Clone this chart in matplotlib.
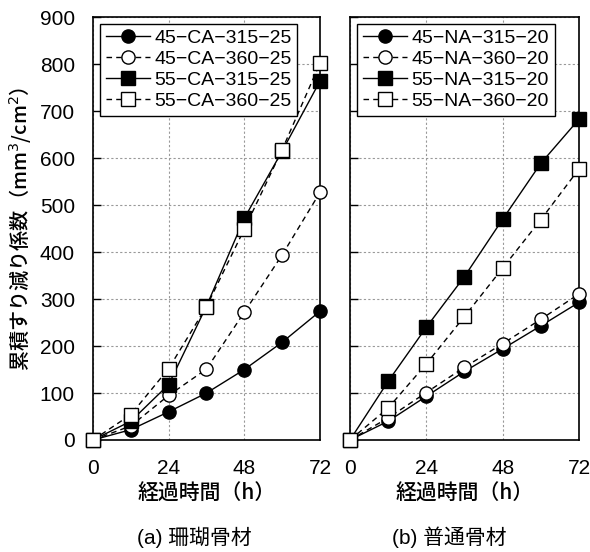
import matplotlib
matplotlib.use("Agg")
import matplotlib.pyplot as plt

plt.rcParams["font.family"] = ["Liberation Sans", "Noto Sans CJK JP", "DejaVu Sans"]

hours = [0, 12, 24, 36, 48, 60, 72]

# (a) coral aggregate
ca_labels = ["45\u2212CA\u2212315\u221225", "45\u2212CA\u2212360\u221225",
             "55\u2212CA\u2212315\u221225", "55\u2212CA\u2212360\u221225"]
ca_45_315 = [0, 22, 60, 100, 150, 208, 274]
ca_45_360 = [0, 30, 95, 151, 272, 394, 527]
ca_55_315 = [0, 40, 118, 285, 472, 615, 764]
ca_55_360 = [0, 54, 152, 284, 449, 618, 802]

# (b) normal aggregate
na_labels = ["45\u2212NA\u2212315\u221220", "45\u2212NA\u2212360\u221220",
             "55\u2212NA\u2212315\u221220", "55\u2212NA\u2212360\u221220"]
na_45_315 = [0, 40, 93, 146, 194, 243, 293]
na_45_360 = [0, 47, 101, 155, 205, 257, 311]
na_55_315 = [0, 125, 240, 348, 470, 589, 683]
na_55_360 = [0, 68, 162, 263, 366, 469, 577]

styles = [
    dict(marker="o", mfc="black", ls="-", ms=9.5),
    dict(marker="o", mfc="white", ls=(0, (4, 3)), ms=9.5),
    dict(marker="s", mfc="black", ls="-", ms=10),
    dict(marker="s", mfc="white", ls=(0, (4, 3)), ms=10),
]

fig = plt.figure(figsize=(5.9, 5.52), dpi=100)
ax1 = fig.add_axes([0.1576, 0.2029, 0.3847, 0.7658])
ax2 = fig.add_axes([0.5932, 0.2029, 0.3881, 0.7658])

panels = [
    (ax1, [ca_45_315, ca_45_360, ca_55_315, ca_55_360], ca_labels),
    (ax2, [na_45_315, na_45_360, na_55_315, na_55_360], na_labels),
]

for ax, series, labels in panels:
    for vals, lab, st in zip(series, labels, styles):
        ax.plot(hours, vals, color="black", lw=1.0, ls=st["ls"],
                marker=st["marker"], markersize=st["ms"], mfc=st["mfc"],
                mec="black", mew=1.0, label=lab, clip_on=False, zorder=3)
    ax.set_xlim(0, 72)
    ax.set_ylim(0, 900)
    ax.set_xticks([0, 24, 48, 72])
    ax.set_yticks(range(0, 1000, 100))
    ax.grid(True, color="#999999", ls=(0, (2, 2)), lw=0.8)
    ax.tick_params(axis="y", direction="in", length=6, width=1, labelsize=15, pad=13)
    ax.tick_params(axis="x", length=0, labelsize=15, pad=14)
    for sp in ax.spines.values():
        sp.set_linewidth(1.2)
    ax.set_xlabel("経過時間（h）", fontsize=15, family=["Noto Sans CJK JP"],
                  fontweight="medium", labelpad=3)
    leg = ax.legend(loc="upper left", bbox_to_anchor=(0.03, 0.985),
                    fontsize=14, frameon=True, fancybox=False,
                    edgecolor="black", framealpha=1, handlelength=2.3,
                    handletextpad=0.2, borderpad=0.3, labelspacing=0.17,
                    borderaxespad=0)
    leg.get_frame().set_linewidth(1.0)

ax2.set_yticklabels([])
ax1.set_ylabel("累積すり減り係数（mm$^3$/cm$^2$）", fontsize=14.5,
               family=["Noto Sans CJK JP"], fontweight="medium", labelpad=5)

fig.text(0.33, 0.027, "(a) 珊瑚骨材", ha="center", va="center", fontsize=15)
fig.text(0.761, 0.027, "(b) 普通骨材", ha="center", va="center", fontsize=15)

fig.savefig("out.png", dpi=100)
